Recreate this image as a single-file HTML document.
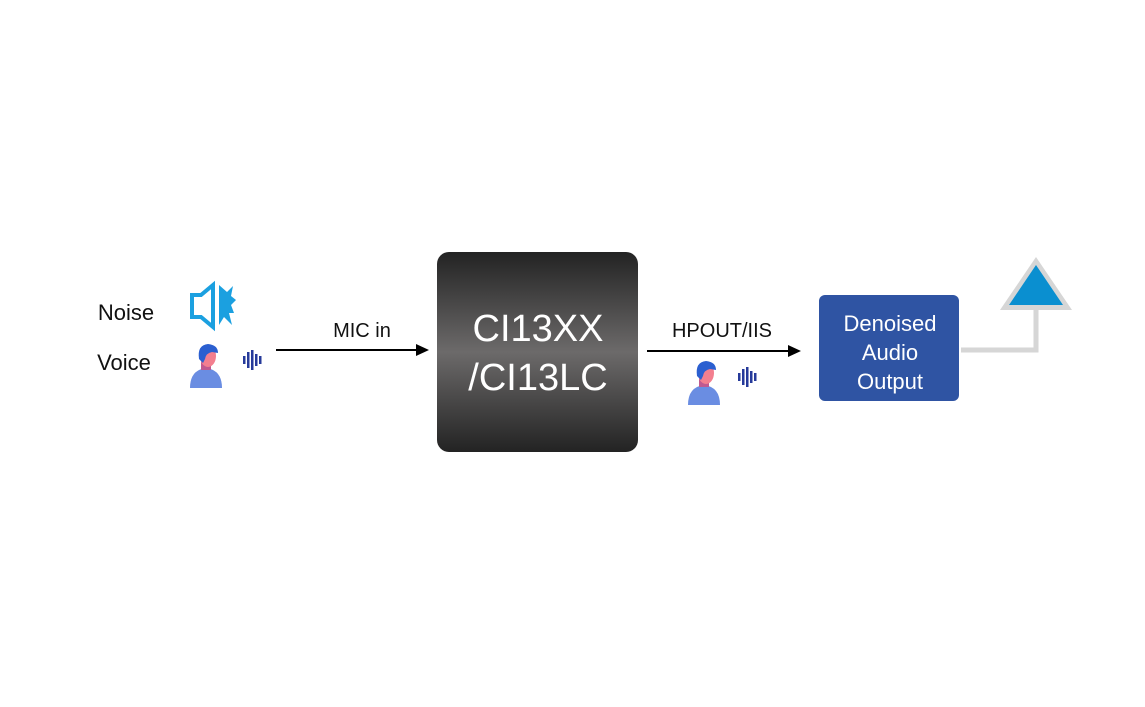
<!DOCTYPE html>
<html><head><meta charset="utf-8"><style>
html,body{margin:0;padding:0;background:#fff;width:1145px;height:707px;overflow:hidden}
text{font-family:"Liberation Sans","Noto Sans CJK SC",sans-serif}
</style></head><body>
<svg width="1145" height="707" viewBox="0 0 1145 707" xmlns="http://www.w3.org/2000/svg">
<defs>
<linearGradient id="chip" x1="0" y1="0" x2="0" y2="1">
<stop offset="0" stop-color="#232323"/>
<stop offset="0.5" stop-color="#6c6a6a"/>
<stop offset="1" stop-color="#232323"/>
</linearGradient>
<g id="person">
<path d="M0 45 Q0 27 16 25 Q32 27 32 45 Z" fill="#6a8de2"/>
<rect x="11" y="17" width="10" height="10" fill="#c05a90"/>
<ellipse cx="18" cy="13" rx="8" ry="11" fill="#f37f8f"/>
<path d="M9 16 Q7 2 18 1 Q28 2 28 10 L22 9 Q16 10 15 16 L13 20 Z" fill="#2b5fd0"/>
</g>
<g id="wave" fill="#263a9a">
<rect x="0" y="6" width="2.5" height="8"/><rect x="4" y="2" width="2.5" height="16"/>
<rect x="8" y="0" width="2.5" height="20"/><rect x="12" y="4" width="2.5" height="12"/>
<rect x="16" y="6" width="2.5" height="8"/>
</g>
</defs>
<text x="126" y="320" font-size="22" text-anchor="middle" fill="#111">Noise</text>
<text x="124" y="370" font-size="22" text-anchor="middle" fill="#111">Voice</text>
<path d="M192 295 L201 295 L213 285 L213 327 L201 317 L192 317 Z" fill="none" stroke="#1ba0e0" stroke-width="4" stroke-linejoin="miter"/>
<path d="M219 285 L227 292 L233 286 L231 296 L236 300 L231 305 L234 313 L229 313 L232 325 L224 317 L219 325 Z" fill="#1ba0e0"/>
<use href="#person" x="190" y="343"/>
<use href="#wave" x="243" y="350"/>
<text x="362" y="337" font-size="20" text-anchor="middle" fill="#111">MIC in</text>
<line x1="276" y1="350" x2="418" y2="350" stroke="#000" stroke-width="2"/>
<path d="M416 344 L429 350 L416 356 Z" fill="#000"/>
<rect x="437" y="252" width="201" height="200" rx="12" fill="url(#chip)"/>
<text x="538" y="341" font-size="38" text-anchor="middle" fill="#fff">CI13XX</text>
<text x="538" y="390" font-size="38" text-anchor="middle" fill="#fff">/CI13LC</text>
<text x="722" y="337" font-size="20" text-anchor="middle" fill="#111">HPOUT/IIS</text>
<line x1="647" y1="351" x2="790" y2="351" stroke="#000" stroke-width="2"/>
<path d="M788 345 L801 351 L788 357 Z" fill="#000"/>
<use href="#person" x="688" y="360"/>
<use href="#wave" x="738" y="367"/>
<rect x="819" y="295" width="140" height="106" rx="6" fill="#2f54a3"/>
<text x="890" y="331" font-size="22" text-anchor="middle" fill="#fff">Denoised</text>
<text x="890" y="360" font-size="22" text-anchor="middle" fill="#fff">Audio</text>
<text x="890" y="389" font-size="22" text-anchor="middle" fill="#fff">Output</text>
<path d="M961 350 L1036 350 L1036 305" fill="none" stroke="#d6d6d6" stroke-width="5"/>
<path d="M1036 257 L1072 310 L1000 310 Z" fill="#d6d6d6"/>
<path d="M1036 265 L1063 305 L1009 305 Z" fill="#0a8fd0"/>
</svg>
</body></html>
